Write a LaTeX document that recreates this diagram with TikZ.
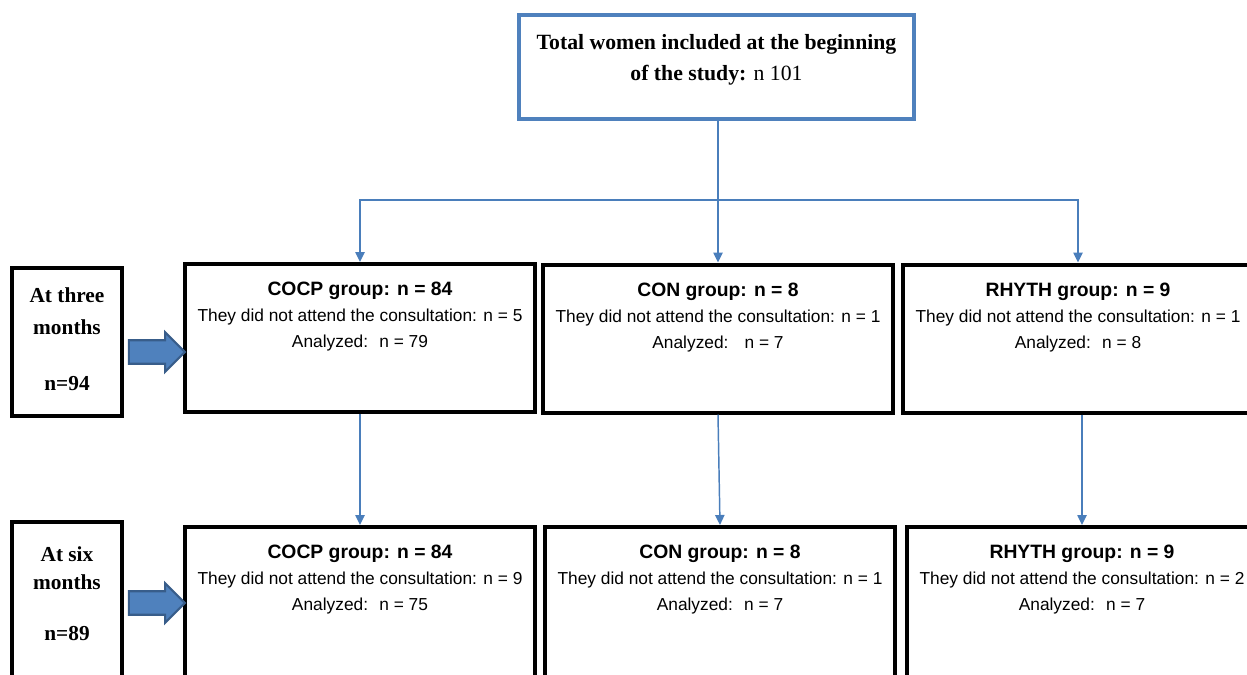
\documentclass[tikz,border=0pt]{standalone}
\usepackage{fontspec}
\setmainfont{Liberation Serif}
\setsansfont{Liberation Sans}
\usepackage{tikz}
\usetikzlibrary{positioning,calc,arrows.meta,shapes.arrows}
\definecolor{boxblue}{HTML}{4F81BD}
\definecolor{lineblue}{HTML}{4A7EBB}
\definecolor{edgeblue}{HTML}{385D8A}
\tikzset{block/.style={draw, line width=3pt, minimum width=262.5pt, minimum height=111pt},
  side/.style={draw, line width=3pt, minimum width=82.5pt, minimum height=111pt},
  grouptext/.style={inner sep=0pt, align=center, font=\sffamily\fontsize{13}{19.5}\selectfont},
  sidetext/.style={inner sep=0pt, align=center, font=\bfseries\fontsize{16}{24}\selectfont},
  line/.style={draw=lineblue, line width=1.1pt, -{Triangle[length=7.5pt,width=7pt]}},
  bigarrow/.style={single arrow, fill=boxblue, draw=edgeblue, line width=1.6pt, minimum height=42pt, inner xsep=0pt, inner ysep=8pt, single arrow head extend=6pt, single arrow head indent=0pt}}

\begin{document}
\begin{tikzpicture}[x=0.75pt, y=-0.75pt]
    \useasboundingbox (0,0) rectangle (1247,675);
    \clip (0,0) rectangle (1247,675);

    \node[draw=boxblue, line width=3pt, minimum width=296.25pt, minimum height=78pt] (total) at (716.5,67) {};
    \node[inner sep=0pt, align=center, font=\fontsize{16.3}{23}\selectfont, below=16pt of total.north] (totalt)
        {\textbf{Total women included at the beginning}\\\textbf{of the study:} n 101};

    % three months
    \node[side]  (three)  at (67,342) {};
    \node[sidetext, below=16pt of three.north] (threet) {At three\\months\\[18pt]n=94};
    \node[block] (cocpa)  at (360,338) {};
    \node[block] (cona)   at (718,338.5) {};
    \node[block] (rhytha) at (1078,338.5) {};
    \node[grouptext, below=15pt of cocpa.north] (cocpat)
        {{\bfseries\fontsize{14.5}{19.5}\selectfont COCP group: n = 84}\\They did not attend the consultation: n = 5\\Analyzed:~ n = 79};
    \node[grouptext, below=15pt of cona.north] (conat)
        {{\bfseries\fontsize{14.5}{19.5}\selectfont CON group: n = 8}\\They did not attend the consultation: n = 1\\Analyzed:~~ n = 7};
    \node[grouptext, below=15pt of rhytha.north] (rhythat)
        {{\bfseries\fontsize{14.5}{19.5}\selectfont RHYTH group: n = 9}\\They did not attend the consultation: n = 1\\Analyzed:~ n = 8};

    % six months
    \node[side, minimum height=127.5pt] (six) at (67,607) {};
    \node[sidetext, font=\bfseries\fontsize{16}{21}\selectfont, below=20pt of six.north] (sixt) {At six\\months\\[17pt]n=89};
    \node[block, minimum height=127.5pt] (cocpb)  at (360,612) {};
    \node[block, minimum height=127.5pt] (conb)   at (720,612) {};
    \node[block, minimum height=127.5pt] (rhythb) at (1082,612) {};
    \node[grouptext, below=15pt of cocpb.north] (cocpbt)
        {{\bfseries\fontsize{14.5}{19.5}\selectfont COCP group: n = 84}\\They did not attend the consultation: n = 9\\Analyzed:~ n = 75};
    \node[grouptext, below=15pt of conb.north] (conbt)
        {{\bfseries\fontsize{14.5}{19.5}\selectfont CON group: n = 8}\\They did not attend the consultation: n = 1\\Analyzed:~ n = 7};
    \node[grouptext, below=15pt of rhythb.north] (rhythbt)
        {{\bfseries\fontsize{14.5}{19.5}\selectfont RHYTH group: n = 9}\\They did not attend the consultation: n = 2\\Analyzed:~ n = 7};

    \node[bigarrow] (arra) at (151,352) {};
    \node[bigarrow] (arrb) at (151,603) {};

    \coordinate (split) at (718,200);
    \draw[draw=lineblue, line width=1.1pt] (split |- total.south) -- (split);
    \draw[line] (split) -| (cocpa.north);
    \draw[line] (split) -- (cona.north);
    \draw[line] (split) -| (rhytha.north);
    \draw[line] (cocpa.south) -- (cocpb.north);
    \draw[line] (cona.south) -- (conb.north);
    \draw[line] (rhytha.south -| rhythb.north) -- (rhythb.north);
\end{tikzpicture}
\end{document}
